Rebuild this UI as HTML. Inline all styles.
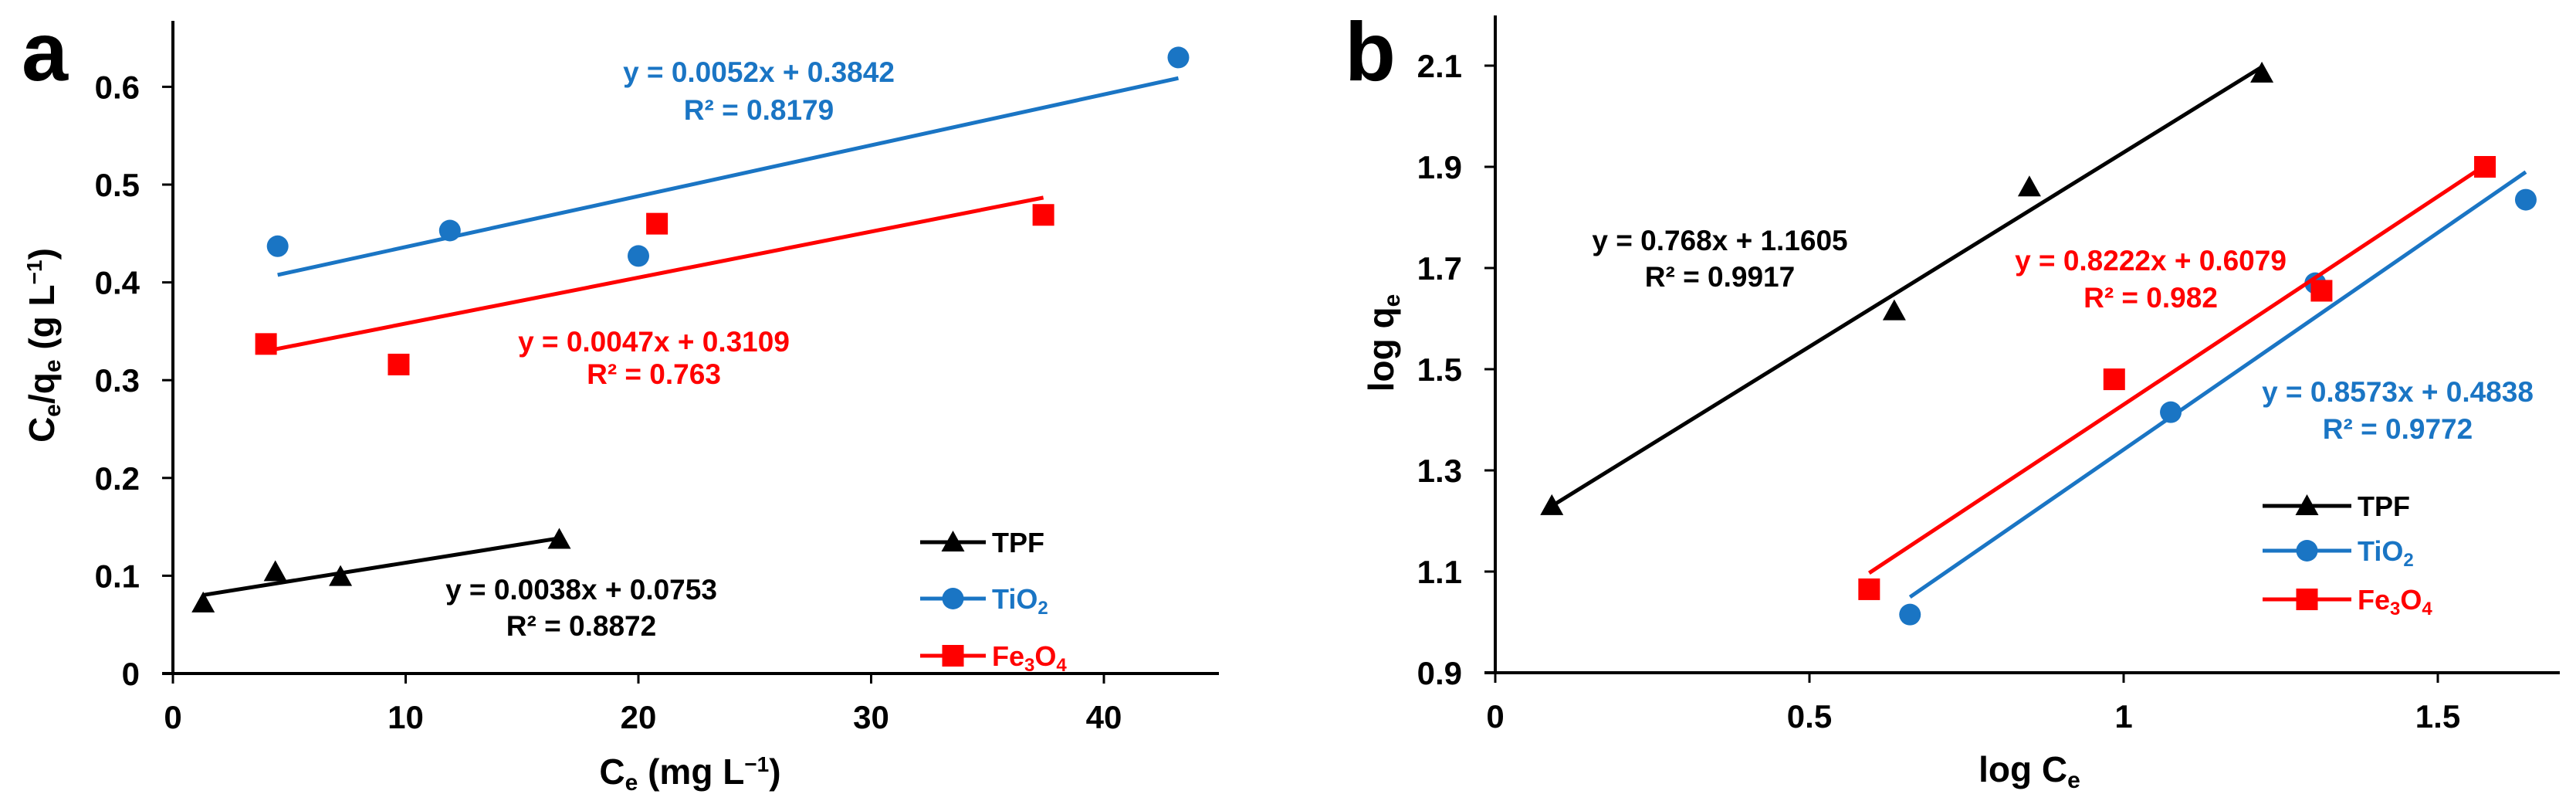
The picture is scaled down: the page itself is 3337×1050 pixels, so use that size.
<!DOCTYPE html>
<html><head><meta charset="utf-8"><style>
html,body{margin:0;padding:0;background:#fff}
svg{display:block;font-family:"Liberation Sans",Arial,sans-serif;font-weight:bold}
</style></head><body>
<svg id="fig" width="3337" height="1050" viewBox="0 0 3337 1050" xmlns="http://www.w3.org/2000/svg">
<text x="28" y="104" font-size="108">a</text>
<text x="1742" y="104" font-size="108">b</text>
<text transform="translate(70,447) rotate(-90)" text-anchor="middle" font-size="46">C<tspan font-size="30" dy="8">e</tspan><tspan dy="-8">/q</tspan><tspan font-size="30" dy="8">e</tspan><tspan dy="-8"> (g L</tspan><tspan font-size="28" dy="-16">−1</tspan><tspan dy="16">)</tspan></text>
<text x="894" y="1015" text-anchor="middle" font-size="46">C<tspan font-size="30" dy="8">e</tspan><tspan dy="-8"> (mg L</tspan><tspan font-size="28" dy="-16">−1</tspan><tspan dy="16">)</tspan></text>
<text transform="translate(1805,444) rotate(-90)" text-anchor="middle" font-size="46">log q<tspan font-size="30" dy="8">e</tspan></text>
<text x="2629" y="1012" text-anchor="middle" font-size="46">log C<tspan font-size="30" dy="8">e</tspan></text>
<g id="ga"></g><g id="gb"></g>
</svg>
<script>
// ---- Panel a data ----
const aTpfX=[1.3,4.4,7.2,16.6];
const aTpfY=[0.072,0.104,0.099,0.137];
const aTioX=[4.5,11.9,20.0,43.2];
const aTioY=[0.437,0.453,0.427,0.630];
const aFeX=[4.0,9.7,20.8,37.4];
const aFeY=[0.337,0.316,0.460,0.469];
const aXTicks=[0,10,20,30,40];
const aYTicks=[0,0.1,0.2,0.3,0.4,0.5,0.6];
const aFitTpf=[0.0038,0.0753];
const aFitTio=[0.0052,0.3842];
const aFitFe=[0.0047,0.3109];
// ---- Panel b data ----
const bTpfX=[0.09,0.635,0.85,1.22];
const bTpfY=[1.23,1.615,1.86,2.085];
const bTioX=[0.66,1.075,1.305,1.64];
const bTioY=[1.015,1.415,1.67,1.835];
const bFeX=[0.595,0.985,1.315,1.575];
const bFeY=[1.065,1.48,1.655,1.90];
const bXTicks=[0,0.5,1,1.5];
const bYTicks=[0.9,1.1,1.3,1.5,1.7,1.9,2.1];
const bFitTpf=[0.768,1.1605];
const bFitTio=[0.8573,0.4838];
const bFitFe=[0.8222,0.6079];

const NS='http://www.w3.org/2000/svg';
const BLK='#000',BLU='#1a75c4',RED='#ff0000';
function mk(p,tag,at){const e=document.createElementNS(NS,tag);for(const k in at)e.setAttribute(k,at[k]);p.appendChild(e);return e;}

function axes(g,xs,ys,x0,x1,yTop,y0,xT,yT,fmtX,fmtY,pfx){
  let e=mk(g,'line',{x1:xs(x0),y1:yTop,x2:xs(x0),y2:ys(y0)+0,stroke:'#000','stroke-width':4});
  
  
  e=mk(g,'line',{x1:xs(x0)-14,y1:ys(y0),x2:x1,y2:ys(y0),stroke:'#000','stroke-width':4});
  
  
  xT.forEach(v=>{
    mk(g,'line',{x1:xs(v),y1:ys(y0),x2:xs(v),y2:ys(y0)+13,stroke:'#000','stroke-width':3});
    const t=mk(g,'text',{x:xs(v),y:ys(y0)+71,'text-anchor':'middle','font-size':42});
    t.textContent=fmtX(v);
    
    
  });
  yT.forEach(v=>{
    mk(g,'line',{x1:xs(x0)-14,y1:ys(v),x2:xs(x0),y2:ys(v),stroke:'#000','stroke-width':3});
    const t=mk(g,'text',{x:xs(x0)-43,y:ys(v)+15,'text-anchor':'end','font-size':42});
    t.textContent=fmtY(v);
    
    
  });
}
function marker(g,type,x,y,c,name){
  let e;
  if(type==='tri') e=mk(g,'polygon',{points:`${x},${y-15} ${x-15},${y+12} ${x+15},${y+12}`,fill:c});
  else if(type==='cir') e=mk(g,'ellipse',{cx:x,cy:y,rx:14,ry:14,fill:c});
  else e=mk(g,'rect',{x:x-14,y:y-14,width:28,height:28,fill:c});
  
  
}
function series(g,xs,ys,X,Y,fit,c,type,name){
  const xa=Math.min(...X),xb=Math.max(...X);
  const l=mk(g,'line',{x1:xs(xa),y1:ys(fit[0]*xa+fit[1]),x2:xs(xb),y2:ys(fit[0]*xb+fit[1]),stroke:c,'stroke-width':5});
  
  
  X.forEach((x,i)=>marker(g,type,xs(x),ys(Y[i]),c,name+'-point'));
}
function text(g,x,y,s,c,fs,name){
  const t=mk(g,'text',{x:x,y:y,'text-anchor':'middle','font-size':fs,fill:c});
  t.textContent=s;
  
  
  return t;
}
function legend(g,x1,x2,ysArr,pfx){
  const items=[['TPF',BLK,'tri'],['TiO',BLU,'cir'],['Fe',RED,'sq']];
  items.forEach((it,i)=>{
    const y=ysArr[i];
    const l=mk(g,'line',{x1:x1,y1:y,x2:x2,y2:y,stroke:it[1],'stroke-width':5});
    
    
    marker(g,it[2],(x1+x2)/2,y,it[1],pfx+'-legend-marker');
    const t=mk(g,'text',{x:x2+8,y:y+13,'font-size':36,fill:it[1]});
    
    
    if(i===0) t.textContent='TPF';
    else if(i===1) t.innerHTML='TiO<tspan font-size="24" dy="7">2</tspan>';
    else t.innerHTML='Fe<tspan font-size="24" dy="7">3</tspan><tspan dy="-7">O</tspan><tspan font-size="24" dy="7">4</tspan>';
  });
}

// Panel a
const ga=document.getElementById('ga');
const axs=v=>224+v*30.15, ays=v=>872-v*1266;
axes(ga,axs,ays,0,1579,27,0,aXTicks,aYTicks,v=>String(v),v=>v===0?'0':v.toFixed(1),'a');
series(ga,axs,ays,aTpfX,aTpfY,aFitTpf,BLK,'tri','a-tpf');
series(ga,axs,ays,aTioX,aTioY,aFitTio,BLU,'cir','a-tio2');
series(ga,axs,ays,aFeX,aFeY,aFitFe,RED,'sq','a-fe3o4');
text(ga,983,106,'y = 0.0052x + 0.3842',BLU,37,'a-tio2-equation');
text(ga,983,155,'R² = 0.8179',BLU,37,'a-tio2-r2');
text(ga,847,455,'y = 0.0047x + 0.3109',RED,37,'a-fe3o4-equation');
text(ga,847,497,'R² = 0.763',RED,37,'a-fe3o4-r2');
text(ga,753,776,'y = 0.0038x + 0.0753',BLK,37,'a-tpf-equation');
text(ga,753,823,'R² = 0.8872',BLK,37,'a-tpf-r2');
legend(ga,1192,1277,[702,775,849],'a');

// Panel b
const gb=document.getElementById('gb');
const bxs=v=>1937+v*814, bys=v=>871-(v-0.9)*655;
axes(gb,bxs,bys,0,3316,20,0.9,bXTicks,bYTicks,v=>String(v),v=>v.toFixed(1),'b');
series(gb,bxs,bys,bTpfX,bTpfY,bFitTpf,BLK,'tri','b-tpf');
series(gb,bxs,bys,bTioX,bTioY,bFitTio,BLU,'cir','b-tio2');
series(gb,bxs,bys,bFeX,bFeY,bFitFe,RED,'sq','b-fe3o4');
text(gb,2228,324,'y = 0.768x + 1.1605',BLK,37,'b-tpf-equation');
text(gb,2228,371,'R² = 0.9917',BLK,37,'b-tpf-r2');
text(gb,2786,350,'y = 0.8222x + 0.6079',RED,37,'b-fe3o4-equation');
text(gb,2786,398,'R² = 0.982',RED,37,'b-fe3o4-r2');
text(gb,3106,520,'y = 0.8573x + 0.4838',BLU,37,'b-tio2-equation');
text(gb,3106,568,'R² = 0.9772',BLU,37,'b-tio2-r2');
legend(gb,2931,3046,[655,713,776],'b');
</script>
</body></html>
